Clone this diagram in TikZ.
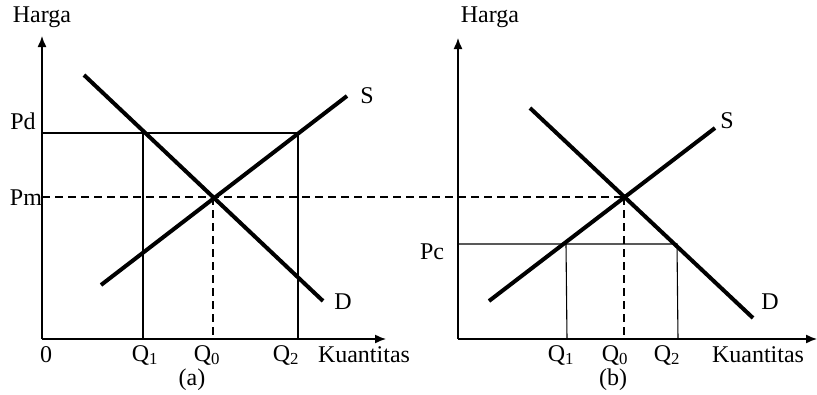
\documentclass[tikz,border=0pt]{standalone}
\usepackage{fontspec}
\setmainfont{Liberation Serif}
\usetikzlibrary{arrows.meta}
\begin{document}
\begin{tikzpicture}[x=1pt,y=-1pt,
  axis/.style={line width=1.4pt,-{Latex[length=11pt,width=9pt]}},
  curve/.style={line width=4pt},
  guide/.style={line width=1.1pt},
  dashguide/.style={line width=1.2pt,dash pattern=on 8pt off 5pt},
  lbl/.style={inner sep=0pt,font=\fontsize{24}{28}\selectfont}]
\useasboundingbox (0,0) rectangle (817,394);
% ---------- panel (a) ----------
\coordinate (Oa) at (42,339);
\coordinate (Ya) at (42,36);
\coordinate (Xa) at (386,339);
\draw[axis] (Oa) -- (Ya);
\draw[axis] (Oa) -- (Xa);
\coordinate (PdL) at (42,133);
\coordinate (PdR) at (298,133);
\coordinate (Q1aT) at (143,133);
\coordinate (Q1aB) at (143,339);
\coordinate (Q2aB) at (298,339);
\draw[guide] (PdL) -- (PdR) -- (Q2aB);
\draw[guide] (Q1aT) -- (Q1aB);
\coordinate (Ea) at (213,197);
\coordinate (PmL) at (42,197);
\coordinate (Eb) at (624,197);
\coordinate (Q0aB) at (213,339);
\draw[dashguide] (PmL) -- (Eb);
\draw[dashguide] (Ea) -- (Q0aB);
\coordinate (Da1) at (84,75);
\coordinate (Da2) at (323,301);
\coordinate (Sa1) at (101,285);
\coordinate (Sa2) at (347,96);
\draw[curve] (Da1) -- (Da2);
\draw[curve] (Sa1) -- (Sa2);
\node[lbl] (Ha) at (42,17) {Harga};
\node[lbl] (Pd) at (23,121) {Pd};
\node[lbl] (Pm) at (26,198) {Pm};
\node[lbl] (Sa) at (367,96) {S};
\node[lbl] (Dal) at (343,302) {D};
\node[lbl] (Za) at (46,355) {0};
\node[lbl] (Q1a) at (145,355) {Q\textsubscript{1}};
\node[lbl] (Q0a) at (207,355) {Q\textsubscript{0}};
\node[lbl] (Q2a) at (286,355) {Q\textsubscript{2}};
\node[lbl] (Ka) at (364,355) {Kuantitas};
\node[lbl] (capa) at (192,380) {(a)};
% ---------- panel (b) ----------
\coordinate (Ob) at (458,339);
\coordinate (Yb) at (458,38);
\coordinate (Xb) at (817,339);
\draw[axis] (Ob) -- (Yb);
\draw[axis] (Ob) -- (Xb);
\coordinate (PcL) at (458,244);
\coordinate (PcR) at (677,244);
\coordinate (Q1bT) at (566,244);
\coordinate (Q1bB) at (567,339);
\coordinate (Q2bB) at (678,339);
\draw[guide] (PcL) -- (PcR) -- (Q2bB);
\draw[guide] (Q1bT) -- (Q1bB);
\coordinate (Q0bB) at (624,339);
\draw[dashguide] (Eb) -- (Q0bB);
\coordinate (Db1) at (530,108);
\coordinate (Db2) at (753,318);
\coordinate (Sb1) at (489,301);
\coordinate (Sb2) at (715,128);
\draw[curve] (Db1) -- (Db2);
\draw[curve] (Sb1) -- (Sb2);
\node[lbl] (Hb) at (490,17) {Harga};
\node[lbl] (Pc) at (432,252) {Pc};
\node[lbl] (Sb) at (727,121) {S};
\node[lbl] (Dbl) at (770,302) {D};
\node[lbl] (Q1b) at (561,355) {Q\textsubscript{1}};
\node[lbl] (Q0b) at (615,355) {Q\textsubscript{0}};
\node[lbl] (Q2b) at (667,355) {Q\textsubscript{2}};
\node[lbl] (Kb) at (758,355) {Kuantitas};
\node[lbl] (capb) at (613,380) {(b)};
\end{tikzpicture}
\end{document}
